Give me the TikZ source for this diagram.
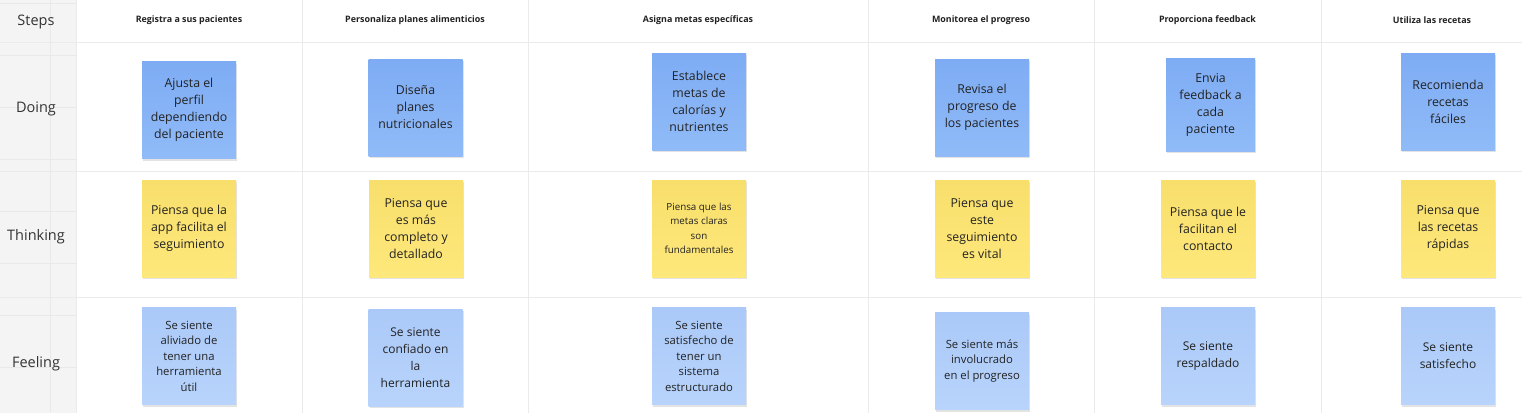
\documentclass[tikz,border=0pt]{standalone}
\usepackage{fontspec}
\setmainfont{Open Sans}
\usetikzlibrary{shadows}
\definecolor{leftbg}{HTML}{F4F4F4}
\definecolor{gridc}{HTML}{EBEBEB}
\definecolor{faintc}{HTML}{E9E9E9}
\definecolor{labelc}{HTML}{333333}
\definecolor{txtc}{HTML}{222222}
\definecolor{doingtop}{HTML}{7EACF4}
\definecolor{doingbot}{HTML}{90BBF8}
\definecolor{thinktop}{HTML}{F8DF6C}
\definecolor{thinkbot}{HTML}{FEE87B}
\definecolor{feeltop}{HTML}{ABC9F8}
\definecolor{feelbot}{HTML}{B8D4FC}
\tikzset{
  rowlabel/.style={text=labelc, font=\fontsize{14.5}{17}\selectfont, inner sep=0pt},
  steplabel/.style={text=txtc, font=\bfseries\fontsize{8.9}{10}\selectfont, inner sep=0pt},
  sticky/.style={minimum width=94pt, minimum height=97pt, inner sep=0pt, align=center,
    text=txtc, font=\fontsize{12.3}{17}\selectfont,
    drop shadow={opacity=0.22, shadow xshift=1pt, shadow yshift=-2pt}},
  doingnote/.style={sticky, top color=doingtop, bottom color=doingbot},
  thinknote/.style={sticky, top color=thinktop, bottom color=thinkbot},
  feelnote/.style={sticky, top color=feeltop, bottom color=feelbot, font=\fontsize{11.3}{15.5}\selectfont},
  gridline/.style={draw=gridc, line width=1pt},
  faintline/.style={draw=faintc, line width=0.8pt}
}
\begin{document}
\begin{tikzpicture}[x=1pt,y=-1pt]
\useasboundingbox (0,0) rectangle (1522,413);
\fill[white] (0,0) rectangle (1522,413);
\fill[leftbg] (0,0) rectangle (76,413);
% faint grid in label column
\foreach \yy in {3,55,107,159,211,263,315,367} \draw[faintline] (0,\yy) -- (76,\yy);
\draw[faintline] (50,0) -- (50,413);
% table lines
\foreach \xx in {76,302,528,868,1094,1321} \draw[gridline] (\xx,0) -- (\xx,413);
\foreach \yy in {42,171,297} \draw[gridline] (0,\yy) -- (1522,\yy);

% row labels
\node[rowlabel] (lsteps) at (36,21.5) {Steps};
\node[rowlabel] (ldoing) at (36,108.5) {Doing};
\node[rowlabel] (lthink) at (36,237) {Thinking};
\node[rowlabel] (lfeel) at (36,364) {Feeling};

% step headers
\node[steplabel] (s1) at (189,20) {Registra a sus pacientes};
\node[steplabel] (s2) at (415,20) {Personaliza planes alimenticios};
\node[steplabel] (s3) at (698,20) {Asigna metas específicas};
\node[steplabel] (s4) at (981,20) {Monitorea el progreso};
\node[steplabel] (s5) at (1207.5,20) {Proporciona feedback};
\node[steplabel] (s6) at (1432,20) {Utiliza las recetas};

% doing
\node[doingnote] (d1) at (189,110) {Ajusta el\\perfil\\dependiendo\\del paciente};
\node[doingnote] (d2) at (415.5,107.5) {Diseña\\planes\\nutricionales};
\node[doingnote] (d3) at (699,101.5) {Establece\\metas de\\calorías y\\nutrientes};
\node[doingnote] (d4) at (982,107.5) {Revisa el\\progreso de\\los pacientes};
\node[doingnote, minimum width=89pt, minimum height=93pt] (d5) at (1210.5,104.5) {Envia\\feedback a\\cada\\paciente};
\node[doingnote] (d6) at (1448,101.5) {Recomienda\\recetas\\fáciles};

% thinking
\node[thinknote] (t1) at (189,228.5) {Piensa que la\\app facilita el\\seguimiento};
\node[thinknote] (t2) at (416,228.5) {Piensa que\\es más\\completo y\\detallado};
\node[thinknote, font=\fontsize{9.8}{14.5}\selectfont] (t3) at (699,228.5) {Piensa que las\\metas claras\\son\\fundamentales};
\node[thinknote] (t4) at (982,228.5) {Piensa que\\este\\seguimiento\\es vital};
\node[thinknote] (t5) at (1208,228.5) {Piensa que le\\facilitan el\\contacto};
\node[thinknote] (t6) at (1448,228.5) {Piensa que\\las recetas\\rápidas};

% feeling
\node[feelnote] (f1) at (189,356) {Se siente\\aliviado de\\tener una\\herramienta\\útil};
\node[feelnote, font=\fontsize{12}{17}\selectfont] (f2) at (415.5,357.5) {Se siente\\confiado en\\la\\herramienta};
\node[feelnote] (f3) at (699,356) {Se siente\\satisfecho de\\tener un\\sistema\\estructurado};
\node[feelnote] (f4) at (982,361) {Se siente más\\involucrado\\en el progreso};
\node[feelnote, font=\fontsize{12}{17}\selectfont] (f5) at (1208,356) {Se siente\\respaldado};
\node[feelnote, font=\fontsize{12}{17}\selectfont] (f6) at (1448,356) {Se siente\\satisfecho};
\end{tikzpicture}
\end{document}
